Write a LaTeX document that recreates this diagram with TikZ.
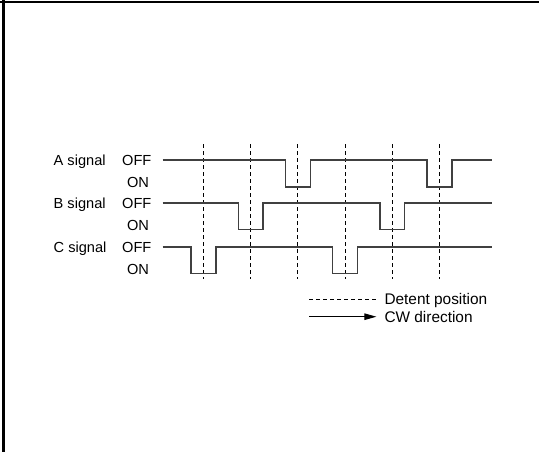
\documentclass[tikz,border=0pt]{standalone}
\usepackage{fontspec}
\setmainfont{Liberation Sans}
\usetikzlibrary{arrows.meta}

\begin{document}
\begin{tikzpicture}[x=1pt,y=-1pt,
  sig/.style={line width=1.4pt, black!75, line join=miter},
  detent/.style={line width=0.9pt, dash pattern=on 4pt off 3pt},
  lbl/.style={font=\fontsize{14.6}{16}\selectfont, inner sep=0pt},
  leg/.style={font=\fontsize{15.4}{17}\selectfont, inner sep=0pt, anchor=base west}]
\def\xs{162.5}
\def\xe{491.5}
\def\xo{203.5}
\def\dx{47.2}
\def\hw{12.4}

\useasboundingbox (0,0) rectangle (539,452);

% Draw the frame
\draw[line width=2pt] (0,2) -- (539,2);
\draw[line width=3pt] (3.5,0) -- (3.5,452);

% Draw the detent positions
\foreach \k in {0,...,5} {
    \draw[detent] (\xo+\k*\dx,144.3) -- (\xo+\k*\dx,278.7);
}

% Draw the signals
\foreach \name/\yoff/\yon/\ka/\kb in {A/160/187/2/5, B/203/229.5/1/4, C/247/273.5/0/3} {
    \pgfmathsetmacro\pa{\xo+\ka*\dx}
    \pgfmathsetmacro\pb{\xo+\kb*\dx}
    \draw[sig] (\xs,\yoff) -- (\pa-\hw,\yoff) -- (\pa-\hw,\yon) -- (\pa+\hw,\yon) -- (\pa+\hw,\yoff)
        -- (\pb-\hw,\yoff) -- (\pb-\hw,\yon) -- (\pb+\hw,\yon) -- (\pb+\hw,\yoff) -- (\xe,\yoff);
    \node[lbl, anchor=base west] (sig\name) at (53.5,\yoff+5.5) {\name\ signal};
    \node[lbl, anchor=base] (off\name) at (136.8,\yoff+5.5) {OFF};
    \node[lbl, anchor=base] (on\name) at (138,\yon+0.5) {ON};
}

% Legend
\coordinate (dashL) at (309.4,299);
\coordinate (dashR) at (376.4,299);
\coordinate (cwL) at (309.4,316.7);
\coordinate (cwR) at (376.4,316.7);
\draw[detent] (dashL) -- (dashR);
\draw[line width=1pt, -{Triangle[length=12pt,width=6.5pt]}] (cwL) -- (cwR);
\node[leg] (detent) at (384.3,304.5) {Detent position};
\node[leg] (cw) at (384.3,322.2) {CW direction};
\end{tikzpicture}
\end{document}
